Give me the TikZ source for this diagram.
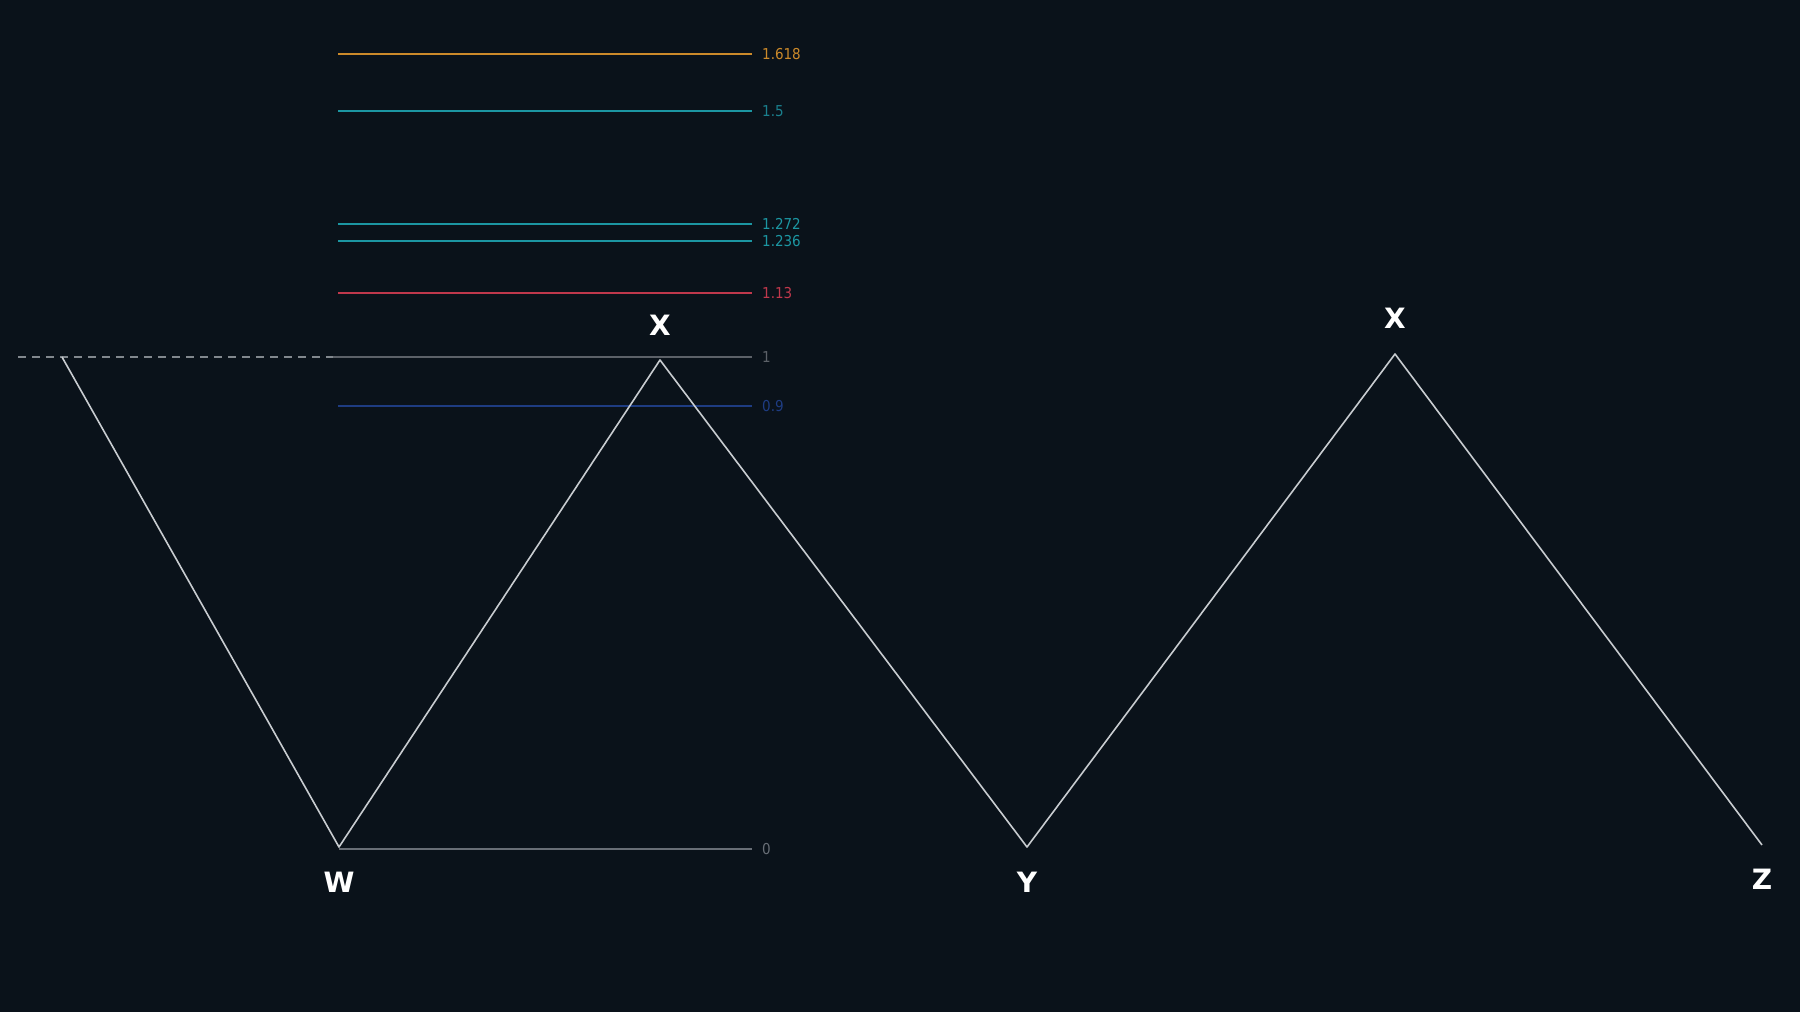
\documentclass[tikz,border=0pt]{standalone}
\usepackage{fontspec}
\setmainfont{DejaVu Sans}
\newfontfamily\condfont{DejaVu Sans Condensed}
\definecolor{bgc}{RGB}{10,18,26}
\definecolor{zigc}{RGB}{200,204,208}
\definecolor{orangec}{RGB}{204,138,42}
\definecolor{tealc}{RGB}{28,150,162}
\definecolor{tealdark}{RGB}{26,128,142}
\definecolor{redc}{RGB}{192,56,76}
\definecolor{onec}{RGB}{92,97,104}
\definecolor{bluec}{RGB}{30,60,130}
\definecolor{zeroc}{RGB}{104,110,118}
\definecolor{dashc}{RGB}{130,136,142}
\begin{document}
\begin{tikzpicture}[x=1pt,y=-1pt,
  zig/.style={draw=zigc,line width=1.6pt,line join=round},
  fibline/.style={line width=2pt},
  lvl/.style={font=\condfont\fontsize{15}{15}\selectfont,anchor=west,inner sep=0pt},
  ptlabel/.style={font=\bfseries\fontsize{28}{28}\selectfont,text=white,inner sep=0pt}]
\fill[bgc] (0,0) rectangle (1800,1012);
\useasboundingbox (0,0) rectangle (1800,1012);
% pattern points
\coordinate (S) at (62,357);
\coordinate (W) at (339,847);
\coordinate (X1) at (660,360);
\coordinate (Y) at (1027,847);
\coordinate (X2) at (1395,354);
\coordinate (Z) at (1762,845);
% fib level end points
\coordinate (a1618) at (338,54);   \coordinate (b1618) at (752,54);
\coordinate (a15) at (338,111);    \coordinate (b15) at (752,111);
\coordinate (a1272) at (338,224);  \coordinate (b1272) at (752,224);
\coordinate (a1236) at (338,241);  \coordinate (b1236) at (752,241);
\coordinate (a113) at (338,293);   \coordinate (b113) at (752,293);
\coordinate (a1) at (333,357);     \coordinate (b1) at (752,357);
\coordinate (d1) at (18,357);
\coordinate (a09) at (338,406);    \coordinate (b09) at (752,406);
\coordinate (a0) at (339,849);     \coordinate (b0) at (752,849);
% levels
\draw[fibline,orangec] (a1618) -- (b1618);
\draw[fibline,tealc] (a15) -- (b15);
\draw[fibline,tealc] (a1272) -- (b1272);
\draw[fibline,tealc] (a1236) -- (b1236);
\draw[fibline,redc] (a113) -- (b113);
\draw[fibline,onec] (a1) -- (b1);
\draw[line width=1.6pt,dashc,dash pattern=on 8pt off 6pt] (d1) -- (a1);
\draw[fibline,bluec] (a09) -- (b09);
\draw[fibline,zeroc] (a0) -- (b0);
\node[lvl,text=orangec] (l1618) at ([xshift=10pt]b1618) {1.618};
\node[lvl,text=tealdark] (l15) at ([xshift=10pt]b15) {1.5};
\node[lvl,text=tealc] (l1272) at ([xshift=10pt]b1272) {1.272};
\node[lvl,text=tealc] (l1236) at ([xshift=10pt]b1236) {1.236};
\node[lvl,text=redc] (l113) at ([xshift=10pt]b113) {1.13};
\node[lvl,text=onec] (l1) at ([xshift=10pt]b1) {1};
\node[lvl,text=bluec] (l09) at ([xshift=10pt]b09) {0.9};
\node[lvl,text=zeroc] (l0) at ([xshift=10pt]b0) {0};
% zigzag
\draw[zig] (S) -- (W) -- (X1) -- (Y) -- (X2) -- (Z);
% point labels
\node[ptlabel] (tW) at (339,882) {W};
\node[ptlabel] (tX1) at (660,325) {X};
\node[ptlabel] (tY) at (1027,882) {Y};
\node[ptlabel] (tX2) at (1395,318) {X};
\node[ptlabel] (tZ) at (1762,879) {Z};
\end{tikzpicture}
\end{document}
